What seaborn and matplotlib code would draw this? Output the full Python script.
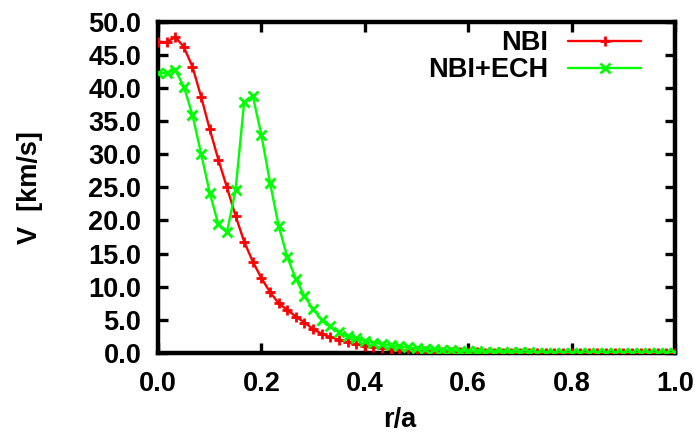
import numpy as np
import pandas as pd
import matplotlib
matplotlib.use("Agg")
import matplotlib.pyplot as plt
import seaborn as sns

# ---- data ----
r_step = 1.0 / 60
r = [round(i * r_step, 5) for i in range(61)]
nbi = [47.0, 46.9, 47.7, 46.2, 43.2, 38.7, 33.8, 29.2, 25.0, 20.7,
       16.8, 13.8, 11.3, 9.2, 7.5, 6.5, 5.5, 4.6, 3.6, 2.9,
       2.4, 2.0, 1.6, 1.3, 1.05, 0.85, 0.70, 0.58, 0.48, 0.40,
       0.33, 0.27, 0.22, 0.18, 0.15, 0.12, 0.10, 0.08, 0.07, 0.06,
       0.05, 0.04, 0.035, 0.03, 0.025, 0.02, 0.02, 0.015, 0.015, 0.01,
       0.01, 0.01, 0.01, 0.01, 0.01, 0.0, 0.0, 0.0, 0.0, 0.0, 0.0]
nbi_ech = [42.2, 42.3, 42.7, 40.2, 35.9, 30.1, 24.2, 19.4, 18.2, 24.6,
           37.9, 38.8, 32.9, 25.7, 19.2, 14.5, 11.2, 8.6, 6.6, 5.0,
           4.0, 3.1, 2.6, 2.2, 1.8, 1.55, 1.35, 1.15, 1.0, 0.85,
           0.72, 0.62, 0.53, 0.45, 0.38, 0.32, 0.27, 0.23, 0.19, 0.16,
           0.13, 0.11, 0.09, 0.08, 0.07, 0.06, 0.05, 0.04, 0.035, 0.03,
           0.025, 0.02, 0.02, 0.015, 0.015, 0.01, 0.01, 0.01, 0.01, 0.0, 0.0]
series_names = ["NBI", "NBI+ECH"]
series_colors = ["#ff0000", "#00ff00"]
series_markers = ["+", "x"]
x_ticks = [0.0, 0.2, 0.4, 0.6, 0.8, 1.0]
y_ticks = [0, 5, 10, 15, 20, 25, 30, 35, 40, 45, 50]

sns.set_style("white")
plt.rcParams["font.family"] = ["Liberation Sans", "DejaVu Sans"]
plt.rcParams["font.weight"] = "bold"
for key in ["text.color", "axes.labelcolor", "xtick.color", "ytick.color",
            "axes.edgecolor"]:
    plt.rcParams[key] = "black"

FS = 19.5

fig = plt.figure(figsize=(6.99, 4.34), dpi=100)
ax = fig.add_axes([158 / 699, 1 - 353 / 434, 517 / 699, (353 - 21.7) / 434])

for name, vals, col, mk in zip(series_names, [nbi, nbi_ech],
                               series_colors, series_markers):
    d = pd.DataFrame({"r/a": r, "V": vals})
    sns.lineplot(data=d, x="r/a", y="V", color=col, marker=mk,
                 markersize=7, markeredgewidth=2.0,
                 markeredgecolor=col, markerfacecolor=col,
                 linewidth=1.7, label=name, ax=ax, zorder=3)

ax.set_xlim(0, 1.0)
ax.set_ylim(0, 50)
ax.set_xticks(x_ticks)
ax.set_xticklabels([f"{v:.1f}" for v in x_ticks])
ax.set_yticks(y_ticks)
ax.set_yticklabels([f"{v:.1f}" for v in y_ticks])

for s in ax.spines.values():
    s.set_visible(True)
    s.set_linewidth(3.2)
    s.set_color("black")
    s.set_zorder(2.5)

ax.tick_params(direction="in", length=7, width=2.4, color="black",
               labelsize=FS, top=True, right=True, bottom=True, left=True,
               labelcolor="black")
ax.tick_params(axis="x", pad=13)
ax.tick_params(axis="y", pad=12)
for lab in ax.get_xticklabels() + ax.get_yticklabels():
    lab.set_fontweight("bold")

ax.set_xlabel("r/a", fontsize=FS, fontweight="bold", color="black")
ax.set_ylabel("V  [km/s]", fontsize=FS, fontweight="bold", color="black")
ax.xaxis.set_label_coords(0.467, -0.162)
ax.yaxis.set_label_coords(-0.222, 0.5)

leg = ax.legend(loc="upper right", bbox_to_anchor=(0.935, 0.975),
                frameon=False, markerfirst=False, fontsize=FS,
                handlelength=2.7, handletextpad=0.75, labelspacing=0.05,
                borderpad=0, borderaxespad=0, numpoints=1)
for t in leg.get_texts():
    t.set_fontweight("bold")
    t.set_color("black")

fig.savefig("out.png", dpi=100)
